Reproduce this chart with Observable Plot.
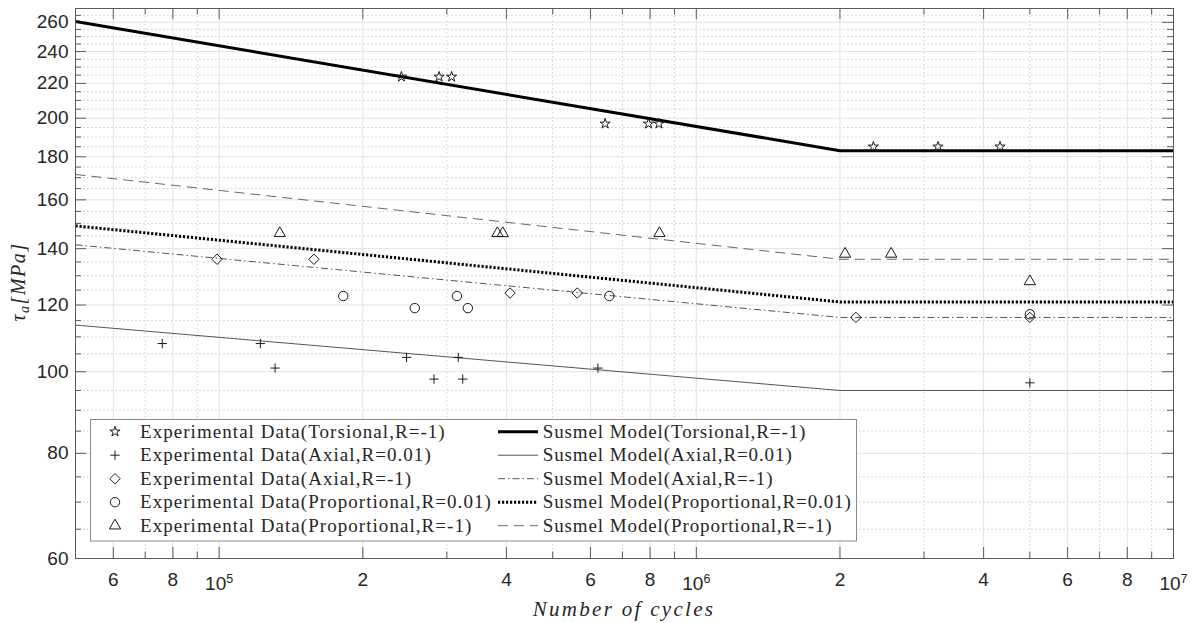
<!DOCTYPE html>
<html><head><meta charset="utf-8">
<script src="https://cdn.jsdelivr.net/npm/d3@7"></script>
<script src="https://cdn.jsdelivr.net/npm/@observablehq/plot@0.6"></script>
<style>body{margin:0;background:#fff} svg{display:block}</style>
</head><body><div id="chart"></div>
<script>
// ---------- data ----------
const torsionalN   = [2.41e5, 2.89e5, 3.07e5, 6.44e5, 7.94e5, 8.35e5, 2.35e6, 3.21e6, 4.33e6];
const torsionalTau = [224, 224, 224, 197, 197, 197, 185, 185, 185];
const axial001N    = [7.6e4, 1.22e5, 1.31e5, 2.47e5, 2.82e5, 3.17e5, 3.24e5, 6.22e5, 5.0e6];
const axial001Tau  = [108, 108, 101, 104, 98, 104, 98, 101, 97];
const axialM1N     = [9.9e4, 1.58e5, 4.07e5, 5.63e5, 2.16e6, 5.0e6];
const axialM1Tau   = [136, 136, 124, 124, 116, 116];
const prop001N     = [1.82e5, 2.57e5, 3.15e5, 3.32e5, 6.57e5, 5.0e6];
const prop001Tau   = [123, 119, 123, 119, 123, 117];
const propM1N      = [1.34e5, 3.83e5, 3.93e5, 8.37e5, 2.05e6, 2.56e6, 5.0e6];
const propM1Tau    = [146, 146, 146, 146, 138, 138, 128];

const modelN          = [5e4, 2e6, 1e7];
const torsionalModel  = [260.5, 183, 183];
const axial001Model   = [113.6, 95, 95];
const axialM1Model    = [141.5, 116, 116];
const prop001Model    = [149, 121, 121];
const propM1Model     = [171.5, 136, 136];

const xMajor = [6e4, 8e4, 1e5, 2e5, 4e5, 6e5, 8e5, 1e6, 2e6, 4e6, 6e6, 8e6, 1e7];
const xTickLabels = ["6", "8", "10^5", "2", "4", "6", "8", "10^6", "2", "4", "6", "8", "10^7"];
const xMinor = [7e4, 9e4, 3e5, 5e5, 7e5, 9e5, 3e6, 5e6, 7e6, 9e6];
const yMajor = [60, 80, 100, 120, 140, 160, 180, 200, 220, 240, 260];
const yMinor = [65, 70, 75, 85, 90, 95, 105, 110, 115, 125, 130, 135, 145, 150, 155, 165, 170, 175,
                185, 190, 195, 205, 210, 215, 225, 230, 235, 245, 250, 255, 265];

const expLabels = ["Experimental Data(Torsional,R=-1)", "Experimental Data(Axial,R=0.01)",
  "Experimental Data(Axial,R=-1)", "Experimental Data(Proportional,R=0.01)", "Experimental Data(Proportional,R=-1)"];
const modLabels = ["Susmel Model(Torsional,R=-1)", "Susmel Model(Axial,R=0.01)",
  "Susmel Model(Axial,R=-1)", "Susmel Model(Proportional,R=0.01)", "Susmel Model(Proportional,R=-1)"];

// ---------- helpers ----------
const pts = (N, T) => N.map((n, i) => ({n, t: T[i]}));
const W = 1199, H = 623, mL = 75, mR = 26, mT = 8, mB = 65;
const pw = W - mL - mR, ph = H - mT - mB;
const xTicks = xMajor.map((v, i) => ({v, label: xTickLabels[i]}));
const axisCol = "#5a5a5a", gridCol = "#e3e3e3", minorCol = "#cfcfcf";
const serif = "'Liberation Serif', 'Times New Roman', serif";
const sans = "'Liberation Sans', Arial, sans-serif";

const markerStyle = [
  {symbol: "star", r: 3.2},
  {symbol: "plus", r: 3.1},
  {symbol: "diamond2", r: 4.7},
  {symbol: "circle", r: 4.7},
  {symbol: "triangle", r: 4.2}
];
const lineStyle = [
  {stroke: "#000", strokeWidth: 3, strokeDasharray: null},
  {stroke: "#555", strokeWidth: 1, strokeDasharray: null},
  {stroke: "#555", strokeWidth: 1, strokeDasharray: "7,3,1.5,3"},
  {stroke: "#000", strokeWidth: 3, strokeDasharray: "2.2,1.8"},
  {stroke: "#666", strokeWidth: 1, strokeDasharray: "10,6"}
];
const expSets = [[torsionalN, torsionalTau], [axial001N, axial001Tau], [axialM1N, axialM1Tau],
                 [prop001N, prop001Tau], [propM1N, propM1Tau]];
const modSets = [torsionalModel, axial001Model, axialM1Model, prop001Model, propM1Model];

const chart = Plot.plot({
  width: W, height: H,
  marginLeft: mL, marginRight: mR, marginTop: mT, marginBottom: mB,
  style: {fontFamily: sans, fontSize: "18px", background: "#fff"},
  x: {type: "log", domain: [5e4, 1e7], axis: null},
  y: {type: "log", domain: [60, 270]},
  marks: [
    Plot.gridX(xMinor, {stroke: minorCol, strokeOpacity: 1, strokeDasharray: "1.5,2.5"}),
    Plot.gridY(yMinor, {stroke: minorCol, strokeOpacity: 1, strokeDasharray: "1.5,2.5"}),
    Plot.gridX(xMajor, {stroke: gridCol, strokeOpacity: 1}),
    Plot.gridY(yMajor, {stroke: gridCol, strokeOpacity: 1}),
    // inward ticks (box on all four sides)
    Plot.tickX(xMajor, {x: d => d, insetTop: ph - 11, stroke: axisCol}),
    Plot.tickX(xMajor, {x: d => d, insetBottom: ph - 11, stroke: axisCol}),
    Plot.tickX(xMinor, {x: d => d, insetTop: ph - 6.5, stroke: axisCol}),
    Plot.tickX(xMinor, {x: d => d, insetBottom: ph - 6.5, stroke: axisCol}),
    Plot.tickY(yMajor, {y: d => d, insetRight: pw - 11, stroke: axisCol}),
    Plot.tickY(yMajor, {y: d => d, insetLeft: pw - 11, stroke: axisCol}),
    Plot.tickY(yMinor, {y: d => d, insetRight: pw - 6, stroke: axisCol}),
    Plot.tickY(yMinor, {y: d => d, insetLeft: pw - 6, stroke: axisCol}),
    // model lines
    ...modSets.map((m, i) => Plot.line(pts(modelN, m), {x: "n", y: "t", strokeLinecap: "butt",
        strokeLinejoin: "miter", ...lineStyle[i]})),
    // experimental data
    ...expSets.map(([N, T], i) => Plot.dot(pts(N, T), {x: "n", y: "t", symbol: markerStyle[i].symbol,
        r: markerStyle[i].r, stroke: "#1a1a1a", strokeWidth: 1, fill: "none"})),
    Plot.frame({stroke: axisCol, strokeWidth: 1}),
    // x tick labels (positioned by the x scale)
    Plot.text(xTicks, {x: "v", text: "label", frameAnchor: "bottom", dy: 13.5, lineAnchor: "top",
        fontSize: 19, fontFamily: sans, fill: "#262626", className: "xticklabel"}),
    Plot.axisY(yMajor, {anchor: "left", tickSize: 0, tickPadding: 7, label: null,
        tickFormat: d => String(d), fontSize: 19, fontFamily: sans, fill: "#262626"})
  ]
});
document.getElementById("chart").appendChild(chart);

const svg = d3.select(chart);
// superscript exponents on x tick labels
svg.selectAll(".xticklabel text").each(function () {
  const t = this.textContent;
  if (t.includes("^")) {
    const [base, ex] = t.split("^");
    this.textContent = "";
    const s = d3.select(this);
    s.append("tspan").attr("dy", 5).text(base);
    s.append("tspan").attr("dy", -7).attr("font-size", 12.5).text(ex);
  }
});

// axis titles
svg.append("text")
  .attr("x", mL + pw / 2).attr("y", 616)
  .attr("text-anchor", "middle")
  .attr("font-family", serif).attr("font-style", "italic").attr("font-size", 21)
  .attr("letter-spacing", 2.3).attr("fill", "#262626")
  .text("Number of cycles");
const yl = svg.append("text")
  .attr("transform", "translate(25,282) rotate(-90)")
  .attr("text-anchor", "middle")
  .attr("font-family", serif).attr("font-style", "italic").attr("font-size", 20)
  .attr("letter-spacing", 1.5).attr("fill", "#262626");
yl.append("tspan").text("τ");
yl.append("tspan").attr("dy", 4).attr("font-size", 14).text("a");
yl.append("tspan").attr("dy", -4).text("[MPa]");

// legend
const lg = svg.append("g").attr("text-anchor", "start");
lg.append("rect").attr("x", 90.5).attr("y", 419.5).attr("width", 766).attr("height", 121.5)
  .attr("fill", "#fff").attr("stroke", "#8a8a8a").attr("stroke-width", 1);
const rowY = [431.7, 455.2, 478.7, 502.2, 525.7];
const symMap = {star: d3.symbolStar, plus: d3.symbolPlus, diamond2: d3.symbolDiamond2,
                circle: d3.symbolCircle, triangle: d3.symbolTriangle};
rowY.forEach((y, i) => {
  const ms = markerStyle[i];
  lg.append("path").attr("transform", `translate(115,${y})`)
    .attr("d", d3.symbol(symMap[ms.symbol], ms.r * ms.r * Math.PI)())
    .attr("fill", "none").attr("stroke", "#1a1a1a").attr("stroke-width", 1);
  lg.append("text").attr("x", 140).attr("y", y + 6).attr("font-family", serif)
    .attr("text-anchor", "start")
    .attr("font-size", 19).attr("letter-spacing", 1.05).attr("fill", "#262626").text(expLabels[i]);
  const ls = lineStyle[i];
  lg.append("line").attr("x1", 498).attr("x2", 538).attr("y1", y).attr("y2", y)
    .attr("stroke", ls.stroke).attr("stroke-width", ls.strokeWidth)
    .attr("stroke-dasharray", ls.strokeDasharray);
  lg.append("text").attr("x", 542.7).attr("y", y + 6).attr("font-family", serif)
    .attr("text-anchor", "start")
    .attr("font-size", 19).attr("letter-spacing", 0.9).attr("fill", "#262626").text(modLabels[i]);
});
</script></body></html>
